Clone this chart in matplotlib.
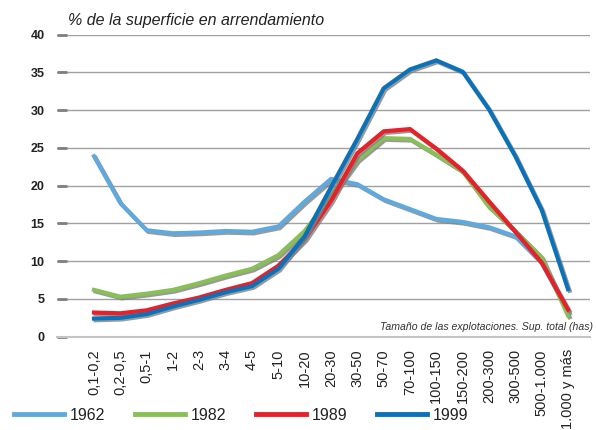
import matplotlib
matplotlib.use("Agg")
import matplotlib.pyplot as plt
import matplotlib.patheffects as pe

plt.rcParams['font.family'] = ['Liberation Sans', 'DejaVu Sans']

sizes = ['0,1-0,2', '0,2-0,5', '0,5-1', '1-2', '2-3', '3-4', '4-5', '5-10',
         '10-20', '20-30', '30-50', '50-70', '70-100', '100-150', '150-200',
         '200-300', '300-500', '500-1.000', '1.000 y más']

y1962 = [23.9, 17.7, 14.1, 13.7, 13.8, 14.0, 13.9, 14.6, 17.9, 20.9, 20.2,
         18.2, 16.9, 15.6, 15.2, 14.5, 13.3, 9.8, 3.3]
y1982 = [6.2, 5.3, 5.7, 6.2, 7.1, 8.1, 9.0, 10.8, 14.0, 18.6, 23.4, 26.3,
         26.2, 24.1, 21.9, 17.2, 14.0, 10.5, 2.8]
y1989 = [3.2, 3.1, 3.5, 4.4, 5.2, 6.2, 7.1, 9.4, 12.9, 18.0, 24.3, 27.2,
         27.5, 24.9, 22.0, 17.9, 13.9, 9.8, 3.6]
y1999 = [2.4, 2.5, 3.0, 4.0, 4.9, 5.9, 6.7, 9.0, 13.3, 19.8, 26.2, 32.9,
         35.4, 36.6, 35.1, 30.1, 23.9, 16.8, 6.3]

series = [('1962', y1962, '#5ea9dd'),
          ('1982', y1982, '#88c057'),
          ('1989', y1989, '#e62129'),
          ('1999', y1999, '#0b72b9')]

fig = plt.figure(figsize=(5.96, 4.30), dpi=100)
ax = fig.add_axes([57 / 596, 1 - 336.7 / 430, 533 / 596, 302 / 430])

x = list(range(len(sizes)))
shadow = [pe.SimpleLineShadow(offset=(1.2, -1.2), shadow_color='#808080', alpha=0.8),
          pe.Normal()]
for name, vals, col in series:
    ax.plot(x, vals, color=col, lw=3, solid_joinstyle='miter', path_effects=shadow, zorder=3)

ax.set_xlim(-37 / 26.33, 18 + 22 / 26.33)
ax.set_ylim(0, 40)
ax.set_yticks(range(0, 41, 5))
ax.set_xticks(x)
ax.set_xticklabels(sizes, rotation=90, fontsize=10.5, color='#222222')
ax.tick_params(axis='x', length=0, pad=9)
ax.tick_params(axis='y', direction='in', length=7.5, width=2, color='#7f7f7f', pad=9,
               labelsize=9, labelcolor='#222222')
for lab in ax.get_yticklabels():
    lab.set_fontweight('bold')

ax.grid(axis='y', color='#a0a0a0', lw=1)
ax.set_axisbelow(True)
for s in ['top', 'right', 'left']:
    ax.spines[s].set_visible(False)
ax.spines['bottom'].set_color('#c4c4c4')
ax.spines['bottom'].set_linewidth(1.5)

fig.text(68 / 596, 1 - 20 / 430, '% de la superficie en arrendamiento', fontsize=11.5,
         style='italic', color='#222222', va='center', ha='left')
ax.text(1.006, 0.033, 'Tamaño de las explotaciones. Sup. total (has)', transform=ax.transAxes,
        fontsize=7.6, style='italic', color='#333333', ha='right', va='center')

handles = [plt.Line2D([], [], color=col, lw=3.5) for _, _, col in series]
fig.legend(handles, [s[0] for s in series], loc='center left',
           bbox_to_anchor=(0 / 596, 1 - 415 / 430), ncol=4, frameon=False,
           fontsize=11.5, handlelength=3.1, handletextpad=0.35, columnspacing=1.9,
           labelcolor='#222222')

fig.savefig('out.png', dpi=100)
